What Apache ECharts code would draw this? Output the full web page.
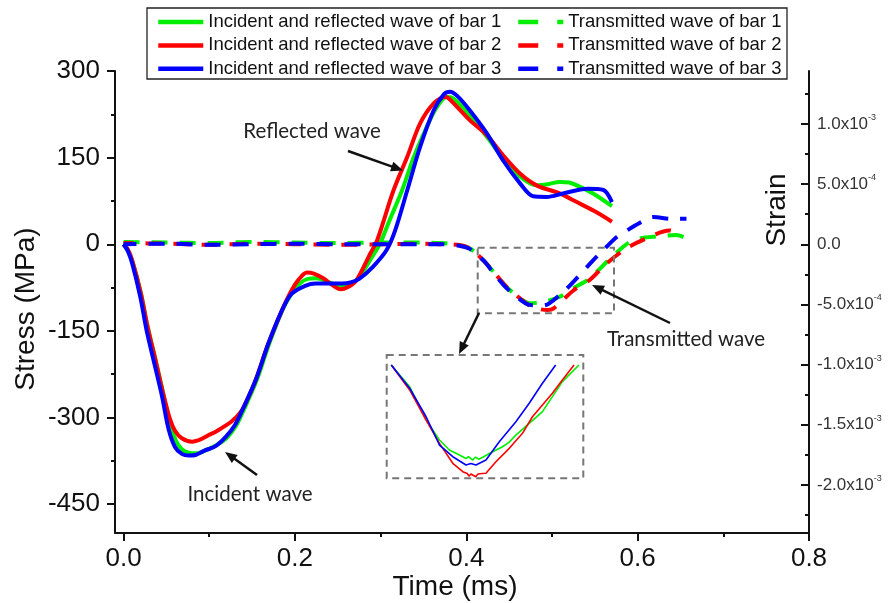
<!DOCTYPE html>
<html><head><meta charset="utf-8">
<script src="https://cdn.jsdelivr.net/npm/echarts@6/dist/echarts.min.js"></script>
<style>html,body{margin:0;padding:0;background:#fff}#c{width:889px;height:603px}</style>
</head><body><div id="c"></div>
<script>
// ---------- names ----------
const incidentNames = ['Incident and reflected wave of bar 1','Incident and reflected wave of bar 2','Incident and reflected wave of bar 3'];
const transNames = ['Transmitted wave of bar 1','Transmitted wave of bar 2','Transmitted wave of bar 3'];
const barColors = ['#00ee00','#ff0000','#0000ff'];

// ---------- tick values ----------
const timeTicks = [0, 0.2, 0.4, 0.6, 0.8];
const timeMinor = [0.1, 0.3, 0.5, 0.7];
const stressTicks = [-450, -300, -150, 0, 150, 300];
const stressMinor = [-375, -225, -75, 75, 225];
const strainTicks = [-2.0e-3, -1.5e-3, -1.0e-3, -5.0e-4, 0, 5.0e-4, 1.0e-3];
const strainMinor = [-2.25e-3, -1.75e-3, -1.25e-3, -7.5e-4, -2.5e-4, 2.5e-4, 7.5e-4, 1.25e-3];

// ---------- data [time ms, stress MPa] ----------
const incidentBar1 = [[0,0],[0.005,-10],[0.01,-28],[0.02,-83],[0.028,-142],[0.037,-198],[0.046,-256],[0.054,-308],[0.061,-340],[0.068,-355],[0.076,-361],[0.085,-362],[0.097,-356],[0.107,-349],[0.12,-336],[0.131,-315],[0.139,-291],[0.155,-237],[0.17,-172],[0.186,-112],[0.196,-86],[0.205,-69],[0.215,-60],[0.225,-59],[0.24,-66],[0.253,-72],[0.265,-69],[0.275,-57],[0.29,-22],[0.299,0],[0.31,40],[0.325,93],[0.338,148],[0.352,197],[0.365,236],[0.377,255],[0.383,254],[0.404,223],[0.424,186],[0.443,149],[0.463,117],[0.482,102],[0.495,104],[0.509,108],[0.52,107],[0.529,102],[0.548,88],[0.57,66]];
const incidentBar2 = [[0,0],[0.005,-9],[0.01,-28],[0.02,-84],[0.028,-143],[0.037,-199],[0.046,-257],[0.054,-302],[0.06,-323],[0.068,-336],[0.08,-342],[0.09,-338],[0.1,-330],[0.107,-325],[0.126,-307],[0.137,-290],[0.146,-264],[0.154,-236],[0.169,-172],[0.185,-114],[0.196,-80],[0.205,-60],[0.214,-49],[0.222,-51],[0.233,-59],[0.245,-72],[0.253,-78],[0.262,-74],[0.272,-62],[0.288,-16],[0.296,7],[0.315,93],[0.331,151],[0.346,209],[0.362,244],[0.375,255],[0.38,252],[0.404,215],[0.424,189],[0.443,154],[0.463,122],[0.482,102],[0.509,88],[0.529,73],[0.55,57],[0.57,39]];
const incidentBar3 = [[0,0],[0.005,-12],[0.01,-33],[0.0195,-91],[0.027,-150],[0.036,-207],[0.045,-264],[0.0525,-320],[0.06,-351],[0.068,-363],[0.076,-366],[0.084,-365],[0.095,-357],[0.107,-350],[0.119,-334],[0.13,-313],[0.138,-289],[0.154,-236],[0.169,-172],[0.185,-114],[0.196,-86],[0.212,-72],[0.224,-68],[0.24,-68],[0.255,-68],[0.265,-66],[0.275,-60],[0.291,-39],[0.307,-10],[0.317,24],[0.331,93],[0.346,168],[0.362,232],[0.374,260],[0.381,264],[0.39,256],[0.404,232],[0.424,192],[0.443,145],[0.463,105],[0.478,83],[0.494,82],[0.513,88],[0.541,96],[0.56,94],[0.57,73]];

const transBar1 = [[0,4],[0.05,3],[0.1,2],[0.15,4],[0.2,3],[0.25,2],[0.3,3],[0.35,3],[0.37,2],[0.39,-1],[0.404,-7],[0.42,-28],[0.432,-48],[0.447,-74],[0.463,-94],[0.474,-102],[0.49,-100],[0.509,-91],[0.525,-76],[0.544,-59],[0.572,-19],[0.595,7],[0.626,14],[0.645,16],[0.657,10]];
const transBar2 = [[0,2],[0.05,1],[0.1,-1],[0.15,1],[0.2,0],[0.25,-1],[0.3,0],[0.35,1],[0.37,0],[0.39,-1],[0.404,-7],[0.42,-28],[0.432,-48],[0.447,-74],[0.463,-94],[0.474,-106],[0.485,-112],[0.495,-114],[0.502,-111],[0.525,-80],[0.544,-62],[0.564,-33],[0.587,-7],[0.61,10],[0.637,24],[0.649,18]];
const transBar3 = [[0,0],[0.05,1],[0.1,-1],[0.15,0],[0.2,1],[0.25,0],[0.3,0],[0.35,0],[0.37,0],[0.39,-2],[0.404,-8],[0.42,-28],[0.432,-50],[0.447,-76],[0.463,-96],[0.474,-105],[0.49,-106],[0.509,-88],[0.525,-65],[0.548,-28],[0.56,-10],[0.576,13],[0.591,27],[0.606,40],[0.618,47],[0.64,44],[0.657,44]];

// inset (magnified transmitted wave minimum)
const insetBar1 = [[0.4138,-11.4],[0.4291,-31.8],[0.4428,-63.2],[0.4539,-82.0],[0.4622,-91.4],[0.4733,-97.7],[0.476,-99.5],[0.478,-97.5],[0.4816,-100.8],[0.484,-98],[0.4865,-100],[0.4899,-98.2],[0.4981,-93.0],[0.5064,-88.3],[0.512,-84],[0.5175,-77.3],[0.5286,-66.3],[0.5396,-55.3],[0.5479,-41.2],[0.5562,-27.1],[0.57,-11.4]];
const insetBar2 = [[0.4138,-11.4],[0.4291,-34.9],[0.4428,-63.2],[0.4539,-85.1],[0.465,-103.9],[0.4733,-111.8],[0.477,-113.5],[0.4785,-116],[0.4801,-114],[0.484,-116.5],[0.486,-114],[0.4871,-115.5],[0.4895,-113.5],[0.4926,-113.3],[0.5009,-102.4],[0.512,-89.8],[0.523,-75.7],[0.5313,-60.1],[0.5396,-49.0],[0.5479,-38.0],[0.5562,-25.5],[0.5659,-11.4]];
const insetBar3 = [[0.4138,-11.4],[0.4291,-33.3],[0.4428,-60.1],[0.4539,-86.7],[0.465,-97.7],[0.476,-105.5],[0.48,-104],[0.4843,-105.5],[0.4926,-100.8],[0.5037,-83.6],[0.5175,-64.8],[0.5286,-47.4],[0.5396,-28.6],[0.5506,-11.4]];

const incidentData = [incidentBar1, incidentBar2, incidentBar3];
const transData = [transBar1, transBar2, transBar3];
const insetData = [insetBar1, insetBar2, insetBar3];

// ---------- chart ----------
const chart = echarts.init(document.getElementById('c'), null, {renderer: 'canvas'});
const AX = '#111';
const tickFont = 'Liberation Sans, Arial, sans-serif';

function strainLabel(v) {
  if (Math.abs(v) < 1e-12) return '0.0';
  const e = Math.floor(Math.log10(Math.abs(v)) + 1e-9);
  const m = v / Math.pow(10, e);
  return m.toFixed(1) + 'x10{sup|' + e + '}';
}

function arrow(x1, y1, x2, y2) {
  const dx = x2 - x1, dy = y2 - y1, L = Math.hypot(dx, dy), ux = dx / L, uy = dy / L;
  const hl = 12, hw = 5;
  const bx = x2 - ux * hl, by = y2 - uy * hl;
  return [
    {type: 'line', z: 100, shape: {x1: x1, y1: y1, x2: bx + ux * 2, y2: by + uy * 2}, style: {stroke: '#111', lineWidth: 2.5}},
    {type: 'polygon', z: 100, shape: {points: [[x2, y2], [bx - uy * hw, by + ux * hw], [bx + uy * hw, by - ux * hw]]}, style: {fill: '#111'}}
  ];
}
function txt(x, y, s, size, family, rot, color) {
  return {type: 'text', z: 100, x: x, y: y, rotation: rot || 0,
    style: {text: s, fontSize: size, fontFamily: family, fill: color || '#222', align: 'center', verticalAlign: 'middle'}};
}
function dashRect(x, y, w, h) {
  return {type: 'rect', z: 100, shape: {x: x, y: y, width: w, height: h},
    style: {fill: 'none', stroke: '#777', lineWidth: 2, lineDash: [7, 5]}};
}

const dashOffsets = [0, 6, 3];
const series = [];
for (let i = 0; i < 3; i++) {
  series.push({name: incidentNames[i], type: 'line', xAxisIndex: 0, yAxisIndex: 0, data: incidentData[i],
    symbol: 'none', smooth: 0.3, color: barColors[i], lineStyle: {width: 4, color: barColors[i]}, z: 3 + i});
}
for (let i = 0; i < 3; i++) {
  series.push({name: transNames[i], type: 'line', xAxisIndex: 0, yAxisIndex: 0, data: transData[i],
    symbol: 'none', smooth: 0.3, color: barColors[i],
    lineStyle: {width: 4, color: barColors[i], type: [16, 12], dashOffset: dashOffsets[i]}, z: 3 + i});
}
for (let i = 0; i < 3; i++) {
  series.push({name: 'inset ' + (i + 1), type: 'line', xAxisIndex: 2, yAxisIndex: 4, data: insetData[i],
    symbol: 'none', color: barColors[i], lineStyle: {width: 1.6, color: barColors[i]}, z: 3 + i});
}

const legendCommon = {orient: 'vertical', top: 12, padding: 0, itemWidth: 45, itemHeight: 14, itemGap: 3.4,
  selectedMode: false, itemStyle: {color: 'transparent', borderWidth: 0, opacity: 0},
  textStyle: {fontSize: 18.5, fontFamily: tickFont, color: '#111', lineHeight: 20}};

const option = {
  animation: false,
  backgroundColor: '#fff',
  grid: [
    {left: 115, right: 80, top: 71, bottom: 70},
    {left: 386.7, top: 355, width: 196.6, height: 123.3}
  ],
  legend: [
    Object.assign({}, legendCommon, {left: 156, data: incidentNames, lineStyle: {width: 4.5}}),
    Object.assign({}, legendCommon, {left: 516, data: transNames, lineStyle: {width: 4.5, type: [20, 19], dashOffset: 0}})
  ],
  xAxis: [
    {type: 'value', gridIndex: 0, min: -0.01, max: 0.8, position: 'bottom',
      axisLine: {show: true, onZero: false, lineStyle: {color: AX, width: 2}},
      axisTick: {show: true, customValues: timeTicks, length: 8, lineStyle: {color: AX, width: 2}},
      axisLabel: {show: true, customValues: timeTicks, formatter: v => v.toFixed(1), fontSize: 26, fontFamily: tickFont, color: '#111', margin: 13},
      splitLine: {show: false}},
    {type: 'value', gridIndex: 0, min: -0.01, max: 0.8, position: 'bottom',
      axisLine: {show: false, onZero: false},
      axisTick: {show: true, customValues: timeMinor, length: 4, lineStyle: {color: AX, width: 2}},
      axisLabel: {show: false}, splitLine: {show: false}},
    {type: 'value', gridIndex: 1, min: 0.41, max: 0.5736, show: false}
  ],
  yAxis: [
    {type: 'value', gridIndex: 0, min: -500, max: 300, position: 'left',
      axisLine: {show: true, onZero: false, lineStyle: {color: AX, width: 2}},
      axisTick: {show: true, customValues: stressTicks, length: 8, lineStyle: {color: AX, width: 2}},
      axisLabel: {show: true, customValues: stressTicks, fontSize: 26, fontFamily: tickFont, color: '#111', margin: 15},
      splitLine: {show: false}},
    {type: 'value', gridIndex: 0, min: -500, max: 300, position: 'left',
      axisLine: {show: false, onZero: false},
      axisTick: {show: true, customValues: stressMinor, length: 4, lineStyle: {color: AX, width: 2}},
      axisLabel: {show: false}, splitLine: {show: false}},
    {type: 'value', gridIndex: 0, min: -2.4e-3, max: 1.44e-3, position: 'right',
      axisLine: {show: true, onZero: false, lineStyle: {color: AX, width: 2}},
      axisTick: {show: true, inside: true, customValues: strainTicks, length: 8, lineStyle: {color: AX, width: 2}},
      axisLabel: {show: true, customValues: strainTicks, formatter: strainLabel, fontSize: 17, fontFamily: tickFont, color: '#333', margin: 8,
        rich: {sup: {fontSize: 9, fontFamily: tickFont, color: '#333', padding: [0, 0, 13, 0]}}},
      splitLine: {show: false}},
    {type: 'value', gridIndex: 0, min: -2.4e-3, max: 1.44e-3, position: 'right',
      axisLine: {show: false, onZero: false},
      axisTick: {show: true, inside: true, customValues: strainMinor, length: 4, lineStyle: {color: AX, width: 2}},
      axisLabel: {show: false}, splitLine: {show: false}},
    {type: 'value', gridIndex: 1, min: -118, max: -2, show: false}
  ],
  series: series,
  graphic: {elements: [
    {type: 'rect', z: 100, shape: {x: 147, y: 8, width: 640, height: 71}, style: {fill: 'none', stroke: '#222', lineWidth: 1.3}},
    txt(26, 309, 'Stress (MPa)', 28, tickFont, Math.PI / 2, '#111'),
    txt(777.5, 210, 'Strain', 28, tickFont, Math.PI / 2, '#111'),
    txt(455, 587, 'Time (ms)', 28, tickFont, 0, '#111'),
    txt(312, 131, 'Reflected wave', 20.5, 'Lato, sans-serif', 0, '#222'),
    txt(250, 494, 'Incident wave', 20.5, 'Lato, sans-serif', 0, '#222'),
    txt(686, 339, 'Transmitted wave', 20.5, 'Lato, sans-serif', 0, '#222'),
    dashRect(477.7, 247.7, 136.3, 65.6),
    dashRect(386.7, 355, 196.6, 123.3),
    ...arrow(348, 151, 403, 170.5),
    ...arrow(257, 475, 225, 452),
    ...arrow(670, 323, 592, 285),
    ...arrow(479, 313, 459, 354)
  ]}
};
chart.setOption(option);
</script>
</body></html>
